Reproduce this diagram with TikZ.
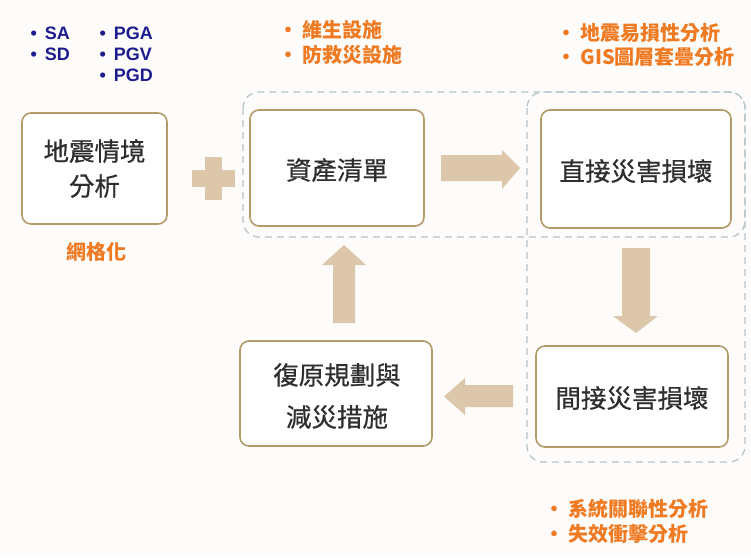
\documentclass[tikz,border=0pt]{standalone}
\usepackage{fontspec}
\setmainfont{Liberation Sans}
\newfontfamily\cjk{Noto Sans CJK TC}
\newfontfamily\cjkbox[FakeBold=0.6]{Noto Sans CJK TC}
\usetikzlibrary{positioning}
\definecolor{boxline}{HTML}{B39A68}
\definecolor{dashc}{HTML}{B5C6CC}
\definecolor{tan}{HTML}{DCC7AA}
\definecolor{orng}{HTML}{F07A22}
\definecolor{navy}{HTML}{1C1C8E}
\definecolor{txt}{HTML}{2E2E2E}
\definecolor{bg}{HTML}{FDFCFA}
\tikzset{
  stepbox/.style={draw=boxline, line width=1.6pt, fill=white, rounded corners=9pt},
  boxtext/.style={font=\cjkbox\fontsize{25.5}{35}\selectfont, text=txt, align=center},
  region/.style={draw=dashc, line width=1.3pt, dash pattern=on 7pt off 5pt, rounded corners=16pt},
  note/.style={font=\cjk\bfseries\fontsize{20}{25}\selectfont, text=orng, anchor=west, align=left},
  blue/.style={font=\bfseries\fontsize{18}{21}\selectfont, text=navy, anchor=west, align=left},
  fat/.style={fill=tan, draw=none}
}
\begin{document}
\begin{tikzpicture}[x=1pt,y=-1pt]
\path[use as bounding box, fill=bg] (0,0) rectangle (751,558);
% dashed regions
\draw[region] (243,92) rectangle (745,237);
\draw[region] (527,92) rectangle (745,462);
% boxes
\draw[stepbox] (22,113) rectangle (167,224);
\node[boxtext] (b1) at (94.5,168.5) {地震情境\\分析};
\draw[stepbox] (250,110) rectangle (424,226);
\node[boxtext] (b2) at (337,170) {資產清單};
\draw[stepbox] (541,110) rectangle (731,228);
\node[boxtext] (b3) at (636,171) {直接災害損壞};
\draw[stepbox] (536,346) rectangle (728,447);
\node[boxtext] (b4) at (632,398) {間接災害損壞};
\draw[stepbox] (240,341) rectangle (432,446);
\node[boxtext, font=\cjkbox\fontsize{25.5}{42}\selectfont] (b5) at (337,396) {復原規劃與\\減災措施};
% plus
\fill[fat] (192,170) rectangle (235,187);
\fill[fat] (205,157) rectangle (222,200);
% right arrow
\fill[fat] (441,155) -- (502,155) -- (502,150) -- (520,168) -- (502,189) -- (502,181) -- (441,181) -- cycle;
% down arrow
\fill[fat] (622,248) -- (650,248) -- (650,316) -- (658,316) -- (636,333) -- (613,316) -- (622,316) -- cycle;
% left arrow
\fill[fat] (513,385) -- (465,385) -- (465,378) -- (444,396.5) -- (465,415) -- (465,407) -- (513,407) -- cycle;
% up arrow
\fill[fat] (333,323) -- (355,323) -- (355,265) -- (366,265) -- (344,245) -- (322,265) -- (333,265) -- cycle;
% blue notes
\node[blue] (sa) at (27,33) {•\hspace{8pt}SA};
\node[blue] (sd) at (27,54) {•\hspace{8pt}SD};
\node[blue] (pga) at (96,33) {•\hspace{8pt}PGA};
\node[blue] (pgv) at (96,54) {•\hspace{8pt}PGV};
\node[blue] (pgd) at (96,75) {•\hspace{8pt}PGD};
% orange notes
\node[note] (n1) at (275,30) {•\hspace{4pt}維生設施};
\node[note] (n2) at (275,55) {•\hspace{4pt}防救災設施};
\node[note] (n3) at (553,33) {•\hspace{4pt}地震易損性分析};
\node[note] (n4) at (553,57) {•\hspace{4pt}GIS圖層套疊分析};
\node[note, anchor=center] (n5) at (96,252) {網格化};
\node[note] (n6) at (541,509) {•\hspace{4pt}系統關聯性分析};
\node[note] (n7) at (541,534) {•\hspace{4pt}失效衝擊分析};
\end{tikzpicture}
\end{document}
